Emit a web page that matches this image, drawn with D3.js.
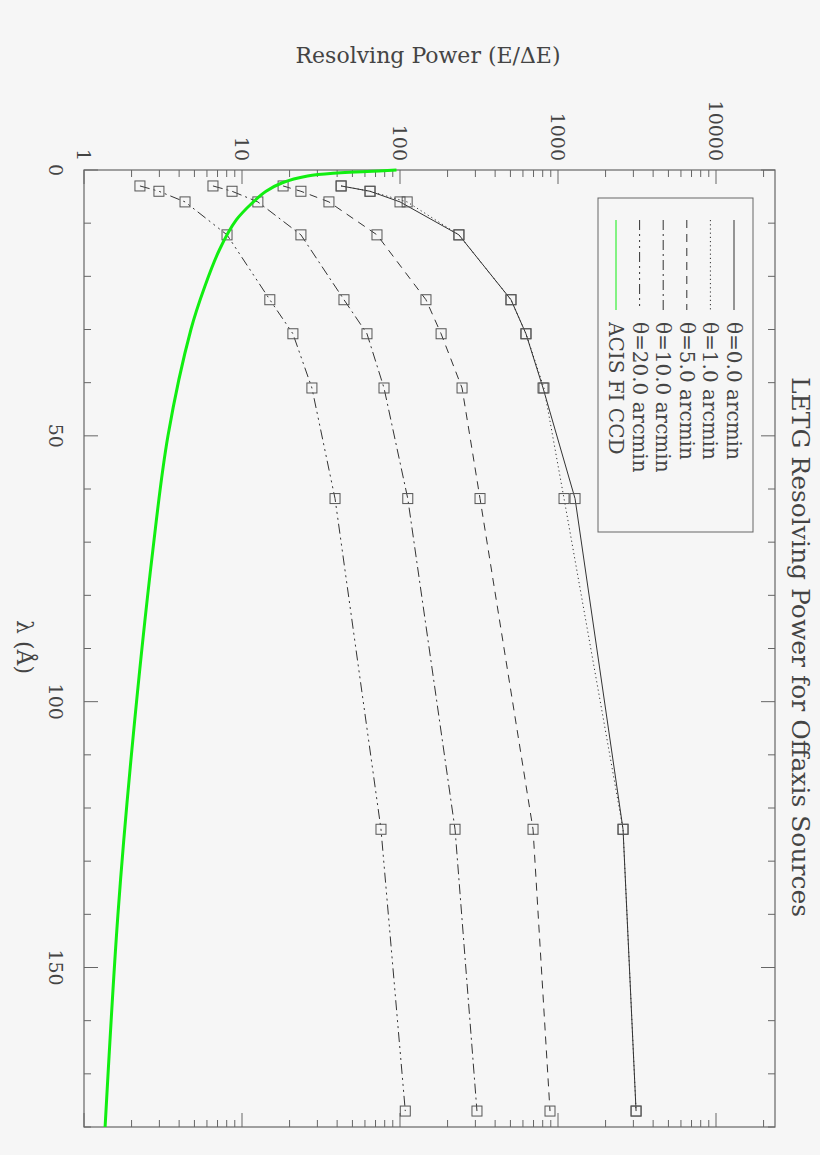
<!DOCTYPE html>
<html><head><meta charset="utf-8">
<script src="https://cdn.jsdelivr.net/npm/d3@7"></script>
<style>body{margin:0;background:#f6f6f6}</style></head>
<body><script>
const lambdas=[3,4,6,12.2,24.4,30.8,41,61.8,124,177];
const theta0=[42.4,64.6,100,236,504,627,804,1282,2580,3120];
const theta1=[42.4,64.6,111,236,504,627,815,1092,2580,3120];
const theta5=[18.2,23.6,35.5,71.5,146,182,247,321,695,890];
const theta10=[6.55,8.65,12.6,23.6,44.2,61.8,79.2,112,223,307];
const theta20=[2.26,2.98,4.36,8.04,15.0,21.0,27.7,38.8,75.8,108];
const acisL=[0,0.3,0.56,1.13,2.4,4,6,9.4,15,22,30,50,71.4,109,140,180];
const acisR=[95,62,40,26,18,14.2,11.8,9.2,7.2,5.8,4.75,3.4,2.73,2.01,1.64,1.36];
const lTicks=[0,50,100,150];
const rTicks=[1,10,100,1000,10000];
const seriesNames=["\u03b8=0.0 arcmin","\u03b8=1.0 arcmin","\u03b8=5.0 arcmin","\u03b8=10.0 arcmin","\u03b8=20.0 arcmin","ACIS FI CCD"];
const dashes=[null,"1.2,3","8,6","10,4,2,4","10,4,2,4,2,4,2,4"];
const series=[theta0,theta1,theta5,theta10,theta20];

const W=820,H=1155,L=84,R=775,T=170,B=1127;
const svg=d3.select("body").append("svg").attr("width",W).attr("height",H).style("background","#f6f6f6");
const y=d3.scaleLinear().domain([0,180]).range([T,B]);
const x=d3.scaleLog().domain([1,Math.pow(10,(R-L)/158)]).range([L,R]);
const font="'DejaVu Serif','Liberation Serif',serif";
const ax="#666", tc="#444";
svg.append("rect").attr("x",L).attr("y",T).attr("width",R-L).attr("height",B-T).attr("fill","none").attr("stroke",ax).attr("stroke-width",1.2);
d3.range(0,181,10).forEach(v=>{const len=v%50===0?14:7;
 svg.append("line").attr("x1",L).attr("x2",L+len).attr("y1",y(v)).attr("y2",y(v)).attr("stroke",ax);
 svg.append("line").attr("x1",R).attr("x2",R-len).attr("y1",y(v)).attr("y2",y(v)).attr("stroke",ax);});
const maxV=x.domain()[1];
for(let d=1;d<=10000;d*=10)for(let m=1;m<10;m++){const v=d*m;if(v>maxV)break;const len=m===1?14:7;
 svg.append("line").attr("x1",x(v)).attr("x2",x(v)).attr("y1",T).attr("y2",T+len).attr("stroke",ax);
 svg.append("line").attr("x1",x(v)).attr("x2",x(v)).attr("y1",B).attr("y2",B-len).attr("stroke",ax);}
const rot=(s,px,py)=>s.attr("transform",`translate(${px},${py}) rotate(90)`);
lTicks.forEach(v=>rot(svg.append("text").text(v),56,y(v)).attr("text-anchor","middle").attr("dominant-baseline","central").attr("font-family",font).attr("font-size",19).attr("fill",tc));
rTicks.forEach(v=>rot(svg.append("text").text(v),x(v),161).attr("text-anchor","end").attr("dominant-baseline","central").attr("font-family",font).attr("font-size",19).attr("fill",tc));
svg.append("text").text("Resolving Power (E/\u0394E)").attr("x",428).attr("y",63).attr("text-anchor","middle").attr("font-family",font).attr("font-size",22).attr("fill",tc);
rot(svg.append("text").text("\u03bb (\u00c5)"),24,647).attr("text-anchor","middle").attr("dominant-baseline","central").attr("font-family",font).attr("font-size",22).attr("fill",tc);
rot(svg.append("text").text("LETG Resolving Power for Offaxis Sources"),800,647).attr("text-anchor","middle").attr("dominant-baseline","central").attr("font-family",font).attr("font-size",25).attr("fill",tc);
const line=d3.line().x(d=>x(d[1])).y(d=>y(d[0]));
series.forEach((s,i)=>{const pts=lambdas.map((l,j)=>[l,s[j]]);
 svg.append("path").attr("d",line(pts)).attr("fill","none").attr("stroke","#333").attr("stroke-width",1).attr("stroke-dasharray",dashes[i]);
 svg.selectAll(null).data(pts).enter().append("rect").attr("x",d=>x(d[1])-5).attr("y",d=>y(d[0])-5).attr("width",10).attr("height",10).attr("fill","none").attr("stroke","#555").attr("stroke-width",1);});
const acis=acisL.map((l,j)=>[l,acisR[j]]);
svg.append("path").attr("d",d3.line().x(d=>x(d[1])).y(d=>y(d[0])).curve(d3.curveCatmullRom)(acis)).attr("fill","none").attr("stroke","#11ee11").attr("stroke-width",3);
svg.append("rect").attr("x",598).attr("y",198).attr("width",155).attr("height",334).attr("fill","#f6f6f6").attr("stroke",ax);
seriesNames.forEach((n,i)=>{const lx=734-i*23.6;
 svg.append("line").attr("x1",lx).attr("x2",lx).attr("y1",220).attr("y2",310).attr("stroke",i===5?"#11ee11":"#333").attr("stroke-dasharray",i<5?dashes[i]:null);
 rot(svg.append("text").text(n),lx,322).attr("dominant-baseline","central").attr("font-family",font).attr("font-size",20).attr("fill",tc);});
</script></body></html>
